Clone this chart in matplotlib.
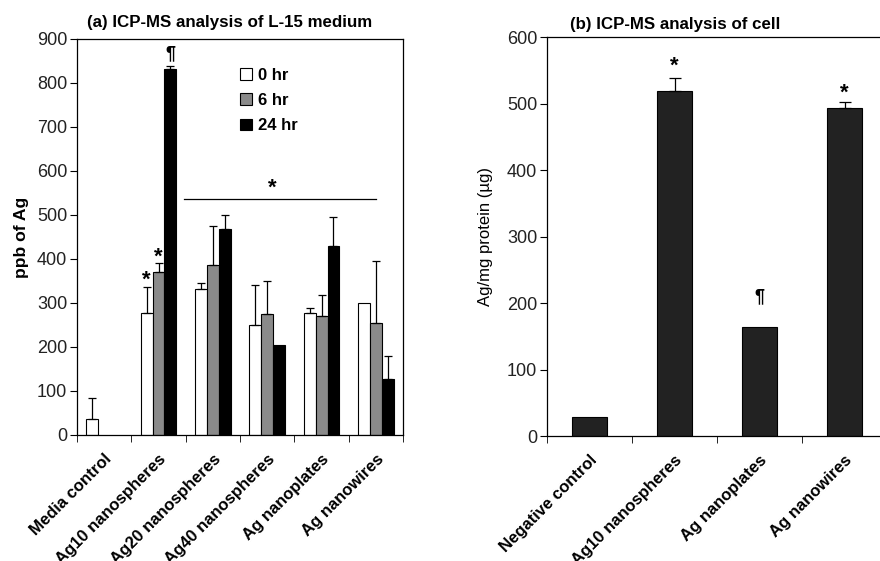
import matplotlib
matplotlib.use('Agg')
import matplotlib.pyplot as plt
from matplotlib.patches import Patch
import numpy as np

plt.rcParams['font.family'] = ['Liberation Sans', 'DejaVu Sans']

# panel (a): medium
groups_a = ['Media control', 'Ag10 nanospheres', 'Ag20 nanospheres',
            'Ag40 nanospheres', 'Ag nanoplates', 'Ag nanowires']
hr0 = [36, 278, 331, 249, 277, 300]
hr0_err = [49, 59, 15, 91, 11, 0]
hr6 = [np.nan, 370, 387, 275, 271, 255]
hr6_err = [0, 20, 88, 74, 47, 141]
hr24 = [np.nan, 832, 468, 204, 430, 128]
hr24_err = [0, 6, 31, 0, 65, 52]
series_labels = ['0 hr', '6 hr', '24 hr']

# panel (b): cell
groups_b = ['Negative control', 'Ag10 nanospheres', 'Ag nanoplates', 'Ag nanowires']
cell = [28, 519, 164, 494]
cell_err = [0, 20, 0, 8]

fig = plt.figure(figsize=(8.8, 5.61), dpi=100)
ax1 = fig.add_axes([0.0875, 0.2246, 0.3705, 0.7059])
ax2 = fig.add_axes([0.6216, 0.2228, 0.3864, 0.7112])

tick_col = '#222222'
x = np.arange(len(groups_a))
w = 0.22
cols = ['white', '#8a8a8a', 'black']
for i, (vals, errs) in enumerate([(hr0, hr0_err), (hr6, hr6_err), (hr24, hr24_err)]):
    pos = x + (i - 1) * w
    ax1.bar(pos, vals, w, color=cols[i], edgecolor='black', linewidth=0.8)
    e = np.array(errs, dtype=float)
    v = np.array(vals, dtype=float)
    ok = (e > 0) & ~np.isnan(v)
    ax1.errorbar(pos[ok], v[ok], yerr=[np.zeros(ok.sum()), e[ok]], fmt='none',
                 ecolor='black', elinewidth=0.9, capsize=3, capthick=0.9)

ax1.set_xlim(-0.5, len(groups_a) - 0.5)
ax1.set_ylim(0, 900)
ax1.set_yticks(range(0, 901, 100))
ax1.set_xticks(x)
ax1.set_xticklabels(groups_a, rotation=45, ha='right', rotation_mode='anchor',
                    fontweight='bold', fontsize=12)
ax1.set_xticks(np.arange(-0.5, len(groups_a)), minor=True)
ax1.tick_params(axis='x', which='major', length=0, pad=12)
ax1.tick_params(axis='x', which='minor', length=5, direction='out')
ax1.tick_params(axis='y', labelsize=13, labelcolor=tick_col, length=5, pad=2)
ax1.set_ylabel('ppb of Ag', fontweight='bold', fontsize=12.6, labelpad=6)
for s in ax1.spines.values():
    s.set_linewidth(0.9)

# significance marks
ax1.text(1 - w, 352, '*', ha='center', va='center', fontsize=16, fontweight='bold')
ax1.text(1, 405, '*', ha='center', va='center', fontsize=16, fontweight='bold')
ax1.text(1 + w, 866, '¶', ha='center', va='center', fontsize=13, fontweight='bold')
ax1.plot([1.46, 5.0], [537, 537], color='black', lw=0.9)
ax1.text(3.1, 560, '*', ha='center', va='center', fontsize=16, fontweight='bold')

handles = [Patch(facecolor=c, edgecolor='black', linewidth=0.8) for c in cols]
ax1.legend(handles, series_labels, loc='upper left', bbox_to_anchor=(0.5, 0.928),
           frameon=False, handlelength=0.7, handleheight=0.7, handletextpad=0.35,
           labelspacing=0.62, borderpad=0, borderaxespad=0,
           prop={'weight': 'bold', 'size': 12})

# panel (b)
xb = np.arange(len(groups_b))
ax2.bar(xb, cell, 0.41, color='#222222', edgecolor='black', linewidth=0.8)
eb = np.array(cell_err, dtype=float)
okb = eb > 0
ax2.errorbar(xb[okb], np.array(cell)[okb], yerr=[np.zeros(okb.sum()), eb[okb]],
             fmt='none', ecolor='black', elinewidth=0.9, capsize=4, capthick=0.9)
ax2.set_xlim(-0.5, len(groups_b) - 0.5)
ax2.set_ylim(0, 600)
ax2.set_yticks(range(0, 601, 100))
ax2.set_xticks(xb)
ax2.set_xticklabels(groups_b, rotation=45, ha='right', rotation_mode='anchor',
                    fontweight='bold', fontsize=12)
ax2.set_xticks(np.arange(-0.5, len(groups_b)), minor=True)
ax2.tick_params(axis='x', which='major', length=0, pad=12)
ax2.tick_params(axis='x', which='minor', length=5, direction='out')
ax2.tick_params(axis='y', labelsize=13, labelcolor=tick_col, length=5, pad=2)
ax2.set_ylabel('Ag/mg protein (µg)', fontsize=12, labelpad=10)
for s in ax2.spines.values():
    s.set_linewidth(0.9)
ax2.text(1, 556, '*', ha='center', va='center', fontsize=16, fontweight='bold')
ax2.text(3, 515, '*', ha='center', va='center', fontsize=16, fontweight='bold')
ax2.text(2, 210, '¶', ha='center', va='center', fontsize=13, fontweight='bold')

fig.text(230 / 880, 1 - 22 / 561, '(a) ICP-MS analysis of L-15 medium',
         ha='center', va='center', fontsize=12.2, fontweight='bold')
fig.text(675 / 880, 1 - 24 / 561, '(b) ICP-MS analysis of cell',
         ha='center', va='center', fontsize=12.2, fontweight='bold')

fig.savefig('out.png', dpi=100)
